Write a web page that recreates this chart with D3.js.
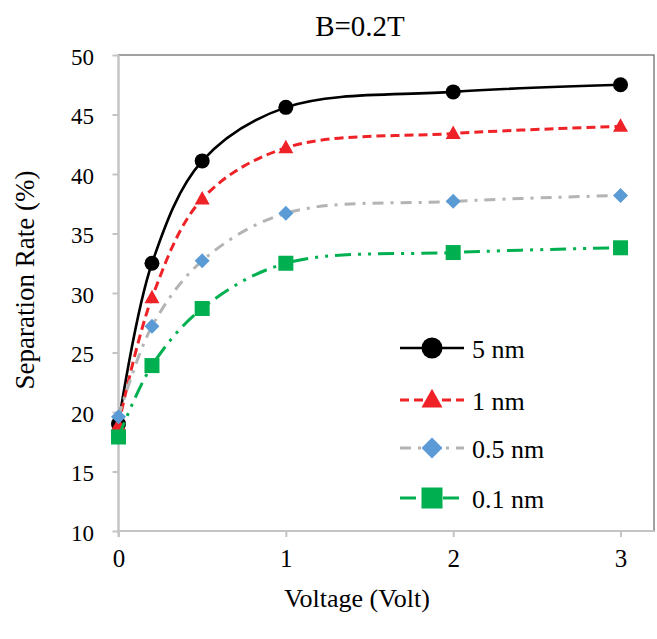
<!DOCTYPE html>
<html>
<head>
<meta charset="utf-8">
<script src="https://cdn.jsdelivr.net/npm/d3@7"></script>
<style>
  html, body { margin: 0; padding: 0; background: #fff; }
</style>
</head>
<body>
<svg id="chart" width="657" height="639"></svg>
<script>
// Separation rate versus applied voltage at B = 0.2 T, one series per particle size
const voltage = [0, 0.2, 0.5, 1, 2, 3];
const rate5nm  = [19.0, 32.5, 41.1, 45.6, 46.9, 47.5];
const rate1nm  = [18.9, 29.6, 37.9, 42.2, 43.4, 44.0];
const rate05nm = [19.6, 27.2, 32.7, 36.7, 37.7, 38.2];
const rate01nm = [17.9, 23.9, 28.7, 32.5, 33.4, 33.8];
const seriesNames = ["5 nm", "1 nm", "0.5 nm", "0.1 nm"];
const xTicks = [0, 1, 2, 3];
const yTicks = [10, 15, 20, 25, 30, 35, 40, 45, 50];

const seriesValues = [rate5nm, rate1nm, rate05nm, rate01nm];
const styles = [
  { color: "#000000", width: 2.6, dash: null,              marker: "circle",   markerColor: "#000000" },
  { color: "#ee2227", width: 3,   dash: "9,5",             marker: "triangle", markerColor: "#ee2227" },
  { color: "#b4b4b4", width: 3,   dash: "11,7,3,7",        marker: "diamond",  markerColor: "#5b9bd5" },
  { color: "#00b050", width: 3,   dash: "16,7,3,7,3,7",    marker: "square",   markerColor: "#00b050" }
];

const FONT = "'Liberation Serif'";

const svg = d3.select("#chart");
const plotLeft = 118.5, plotRight = 654, plotTop = 55, plotBottom = 531;

const x = d3.scaleLinear().domain([0, 3.2]).range([plotLeft, plotRight]);
const y = d3.scaleLinear().domain([10, 50]).range([plotBottom, plotTop]);

// plot area frame
svg.append("rect")
  .attr("x", plotLeft).attr("y", plotTop)
  .attr("width", plotRight - plotLeft).attr("height", plotBottom - plotTop)
  .attr("fill", "none").attr("stroke", "#6f6f6f").attr("stroke-width", 1.3);

// axes
const yAxis = d3.axisLeft(y).tickValues(yTicks).tickSize(6).tickPadding(18.5).tickFormat(d3.format("d"));
const xAxis = d3.axisBottom(x).tickValues(xTicks).tickSize(6).tickPadding(12).tickFormat(d3.format("d"));

const gy = svg.append("g").attr("transform", `translate(${plotLeft},0)`).call(yAxis);
const gx = svg.append("g").attr("transform", `translate(0,${plotBottom})`).call(xAxis);
[gx, gy].forEach(g => {
  g.select(".domain").attr("stroke", "#c4c4c4").attr("stroke-width", 2.2);
  g.selectAll(".tick line").attr("stroke", "#c4c4c4").attr("stroke-width", 2);
  g.selectAll(".tick text").style("font-family", FONT).attr("fill", "#000");
});
gy.selectAll(".tick text").style("font-size", "23px").attr("dy", "0.4em");
gx.selectAll(".tick text").style("font-size", "25px");
gy.select(".domain").attr("d", `M0,${plotBottom + 6}V${plotTop}`);
gx.select(".domain").attr("d", `M${plotLeft},0H${plotRight}`);

// titles
svg.append("text").attr("x", 360).attr("y", 36).attr("text-anchor", "middle")
  .style("font-family", FONT).style("font-size", "29px").text("B=0.2T");
svg.append("text").attr("x", 357).attr("y", 607).attr("text-anchor", "middle")
  .style("font-family", FONT).style("font-size", "26px").text("Voltage (Volt)");
svg.append("text").attr("transform", "translate(34,280) rotate(-90)").attr("text-anchor", "middle")
  .style("font-family", FONT).style("font-size", "27px").text("Separation Rate (%)");

// marker drawing
function drawMarker(g, type, cx, cy, size, color) {
  if (type === "circle") {
    g.append("circle").attr("cx", cx).attr("cy", cy).attr("r", size / 2).attr("fill", color);
  } else if (type === "square") {
    g.append("rect").attr("x", cx - size / 2).attr("y", cy - size / 2)
      .attr("width", size).attr("height", size).attr("fill", color);
  } else if (type === "diamond") {
    const h = size / 2;
    g.append("path").attr("d", `M${cx},${cy - h}L${cx + h},${cy}L${cx},${cy + h}L${cx - h},${cy}Z`).attr("fill", color);
  } else if (type === "triangle") {
    const h = size * 0.9, w = size;
    g.append("path").attr("d", `M${cx},${cy - h * 0.6}L${cx + w / 2},${cy + h * 0.4}L${cx - w / 2},${cy + h * 0.4}Z`).attr("fill", color);
  }
}

const line = d3.line()
  .x(d => x(d[0])).y(d => y(d[1]))
  .curve(d3.curveCatmullRom.alpha(0.5));

seriesValues.forEach((vals, i) => {
  const st = styles[i];
  const pts = voltage.map((v, k) => [v, vals[k]]);
  const g = svg.append("g");
  g.append("path").datum(pts).attr("d", line)
    .attr("fill", "none").attr("stroke", st.color).attr("stroke-width", st.width)
    .attr("stroke-dasharray", st.dash).attr("stroke-linecap", "butt");
  pts.forEach(p => drawMarker(g, st.marker, x(p[0]), y(p[1]), 15, st.markerColor));
});

// legend
const legendRows = [348, 400, 448, 498];
seriesNames.forEach((name, i) => {
  const st = styles[i];
  const g = svg.append("g");
  const ly = legendRows[i];
  g.append("line").attr("x1", 400).attr("x2", 464).attr("y1", ly).attr("y2", ly)
    .attr("stroke", st.color).attr("stroke-width", st.width).attr("stroke-dasharray", st.dash);
  drawMarker(g, st.marker, 432, ly, 21, st.markerColor);
  g.append("text").attr("x", 472).attr("y", ly).attr("dy", "0.38em")
    .style("font-family", FONT).style("font-size", "26px").text(name);
});
</script>
</body>
</html>
